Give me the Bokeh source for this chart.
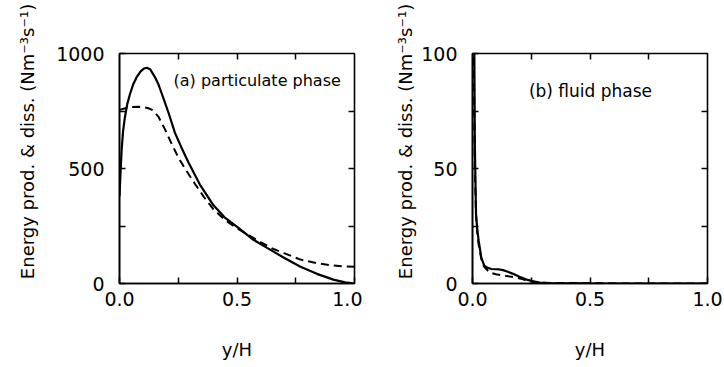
from bokeh.plotting import figure
from bokeh.layouts import row
from bokeh.models import Range1d, FixedTicker, LinearAxis, Label
from bokeh.embed import file_html
from bokeh.resources import INLINE

# ---- data ----
# (a) particulate phase
a_solid_x = [0.0, 0.003, 0.009, 0.015, 0.023, 0.033, 0.045, 0.058, 0.073, 0.09, 0.105, 0.116,
             0.13, 0.151, 0.166, 0.18, 0.195, 0.21, 0.236, 0.265, 0.293, 0.342, 0.40, 0.45,
             0.513, 0.57, 0.628, 0.70, 0.77, 0.84, 0.91, 0.96, 1.0]
a_solid_y = [380, 450, 578, 660, 723, 780, 825, 865, 897, 922, 935, 938,
             932, 897, 865, 825, 782, 738, 655, 588, 527, 430, 340, 285,
             236, 190, 155, 112, 73, 42, 17, 5, 0]
a_dash_x = [0.0, 0.025, 0.052, 0.08, 0.105, 0.123, 0.144, 0.167, 0.196, 0.222, 0.25, 0.279,
            0.32, 0.36, 0.40, 0.45, 0.50, 0.55, 0.60, 0.65, 0.70, 0.77, 0.84, 0.91, 0.96, 1.0]
a_dash_y = [755, 762, 767, 768, 766, 762, 752, 723, 665, 607, 549, 499,
            435, 375, 322, 275, 240, 210, 180, 152, 132, 104, 88, 78, 74, 73]

# (b) fluid phase
b_solid_x = [0.0, 0.005, 0.01, 0.015, 0.02, 0.026, 0.038, 0.05, 0.06, 0.08, 0.10, 0.115,
             0.13, 0.15, 0.17, 0.20, 0.23, 0.26, 0.285, 0.32, 0.40, 0.50, 0.70, 1.0]
b_solid_y = [300, 150, 60, 30, 24, 18.7, 11, 7.8, 7.0, 6.3, 6.2, 6.1,
             5.8, 5.1, 4.3, 2.9, 1.7, 0.9, 0.4, 0.2, 0.1, 0.05, 0.0, 0.0]
b_dash_x = [0.0, 0.005, 0.01, 0.015, 0.02, 0.026, 0.038, 0.05, 0.072, 0.10, 0.128, 0.16,
            0.187, 0.215, 0.243, 0.27, 0.30, 0.40, 0.50, 0.70, 1.0]
b_dash_y = [200, 100, 50, 30, 22, 17, 10.5, 7.2, 4.8, 4.0, 3.5, 3.0,
            2.6, 1.8, 0.9, 0.5, 0.3, 0.2, 0.1, 0.0, 0.0]

x_major = [0.0, 0.5, 1.0]
x_minor = [0.25, 0.75]
x_labels = {0: "0.0", 0.5: "0.5", 1: "1.0"}
a_y_major = [0, 500, 1000]
a_y_minor = [250, 750]
b_y_major = [0, 50, 100]
b_y_minor = [25, 75]

# leading em-spaces lift the rotated title, as in the reference
y_title = "\u2003\u2003\u2003Energy prod. & diss. (Nm\u207b\u00b3s\u207b\u00b9)"
x_title = "y/H"

FONT = "DejaVu Sans"


def make_panel(ymax, ymajor, yminor, sx, sy, dx, dy, text, tx, ty, tsize,
               border_left, border_right, ylab_standoff):
    p = figure(width=362, height=367, output_backend="svg", toolbar_location=None,
               x_range=Range1d(0, 1), y_range=Range1d(0, ymax),
               min_border_left=border_left, min_border_right=border_right,
               min_border_top=53, min_border_bottom=84)
    p.grid.visible = False
    p.background_fill_color = "white"
    p.border_fill_color = "white"
    p.outline_line_color = "black"
    p.outline_line_width = 1.6

    xa = p.xaxis[0]
    xa.ticker = FixedTicker(ticks=x_major, minor_ticks=x_minor)
    xa.major_label_overrides = x_labels
    xa.axis_label = x_title
    ya = p.yaxis[0]
    ya.ticker = FixedTicker(ticks=ymajor, minor_ticks=yminor)
    ya.axis_label = y_title

    for ax in (xa, ya):
        ax.axis_line_color = "black"
        ax.axis_line_width = 1.6
        ax.major_tick_in = 6
        ax.major_tick_out = 0
        ax.major_tick_line_width = 1.5
        ax.minor_tick_in = 6
        ax.minor_tick_out = 0
        ax.minor_tick_line_width = 1.5
        ax.minor_tick_line_color = "black"
        ax.major_label_text_font = FONT
        ax.major_label_text_font_size = "19px"
        ax.major_label_text_color = "black"
        ax.axis_label_text_font = FONT
        ax.axis_label_text_font_size = "18px"
        ax.axis_label_text_font_style = "normal"
        ax.axis_label_text_color = "black"
    xa.major_label_standoff = 8
    xa.axis_label_standoff = 30
    ya.major_label_standoff = 15
    ya.axis_label_standoff = ylab_standoff

    # mirrored ticks on top and right (no labels)
    top = LinearAxis(ticker=FixedTicker(ticks=[], minor_ticks=x_minor + [0.5]),
                     axis_line_color=None, minor_tick_in=6, minor_tick_out=0,
                     minor_tick_line_width=1.5, minor_tick_line_color="black",
                     major_tick_line_color=None, major_label_standoff=0)
    right = LinearAxis(ticker=FixedTicker(ticks=[], minor_ticks=yminor + [ymajor[1]]),
                       axis_line_color=None, minor_tick_in=6, minor_tick_out=0,
                       minor_tick_line_width=1.5, minor_tick_line_color="black",
                       major_tick_line_color=None, major_label_standoff=0)
    p.add_layout(top, "above")
    p.add_layout(right, "right")

    p.line(sx, sy, line_color="black", line_width=2.2)
    p.line(dx, dy, line_color="black", line_width=2.0, line_dash="8 5")

    p.add_layout(Label(x=tx, y=ty, text=text, text_font=FONT, text_font_size=tsize,
                       text_baseline="middle", text_align="left", text_color="black"))
    return p


p1 = make_panel(1000, a_y_major, a_y_minor, a_solid_x, a_solid_y, a_dash_x, a_dash_y,
                "(a) particulate phase", 0.23, 883, "16px", 119, 8, 15)
p2 = make_panel(100, b_y_major, b_y_minor, b_solid_x, b_solid_y, b_dash_x, b_dash_y,
                "(b) fluid phase", 0.24, 83.5, "17px", 110, 17, 2)

layout = row(p1, p2)
open("out.html", "w").write(file_html(layout, INLINE))
